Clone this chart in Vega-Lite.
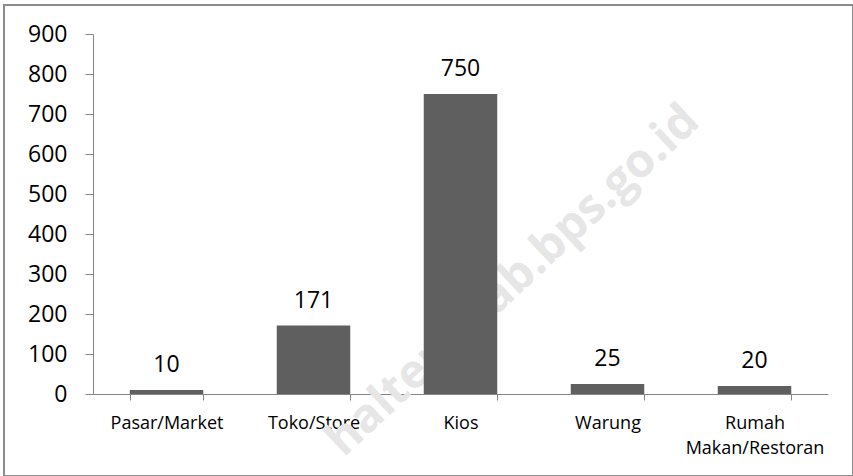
{
  "$schema": "https://vega.github.io/schema/vega-lite/v6.json",
  "autosize": {"type": "none"},
  "width": 849,
  "height": 471,
  "padding": {"left": 4, "top": 5, "right": 0, "bottom": 0},
  "background": "white",
  "config": {
    "view": {"stroke": "#8c8c8c", "strokeWidth": 2},
    "font": "Open Sans",
    "axis": {"grid": false, "domainColor": "#868686", "tickColor": "#868686", "labelColor": "#000000", "title": null}
  },
  "datasets": {
    "utama": [
      {"kategori": "Pasar/Market", "jumlah": 10},
      {"kategori": "Toko/Store", "jumlah": 171},
      {"kategori": "Kios", "jumlah": 750},
      {"kategori": "Warung", "jumlah": 25},
      {"kategori": "Rumah Makan/Restoran", "jumlah": 20}
    ],
    "tanda": [
      {"kategori": "Kios", "jumlah": 160, "teks": "haltengkab.bps.go.id"}
    ]
  },
  "encoding": {
    "x": {
      "field": "kategori",
      "type": "nominal",
      "sort": null,
      "scale": {"domain": ["Pasar/Market", "Toko/Store", "Kios", "Warung", "Rumah Makan/Restoran"], "range": [89, 824], "paddingInner": 0.5, "paddingOuter": 0.25},
      "axis": {
        "offset": -82,
        "labelAngle": 0,
        "labelFontSize": 18,
        "labelPadding": 14,
        "tickSize": 6,
        "tickBand": "extent",
        "labelLineHeight": 25,
        "labelExpr": "datum.label == 'Rumah Makan/Restoran' ? ['Rumah', 'Makan/Restoran'] : datum.label"
      }
    },
    "y": {
      "field": "jumlah",
      "type": "quantitative",
      "scale": {"domain": [0, 900], "range": [389, 29], "nice": false},
      "axis": {
        "offset": -89,
        "values": [0, 100, 200, 300, 400, 500, 600, 700, 800, 900],
        "labelFontSize": 23,
        "labelPadding": 18,
        "tickSize": 8
      }
    }
  },
  "layer": [
    {
      "data": {"name": "tanda"},
      "mark": {"type": "text", "angle": -43, "fontSize": 47, "fontWeight": "bold", "fill": "#e6e6e6", "align": "center", "baseline": "middle", "dx": 72},
      "encoding": {
        "text": {"field": "teks", "type": "nominal"}
      }
    },
    {
      "data": {"name": "utama"},
      "mark": {"type": "bar", "color": "#5f5f5f"}
    },
    {
      "data": {"name": "utama"},
      "mark": {"type": "text", "fontSize": 23, "color": "#000000", "baseline": "alphabetic", "dy": -18},
      "encoding": {
        "text": {"field": "jumlah", "type": "quantitative"}
      }
    }
  ]
}
